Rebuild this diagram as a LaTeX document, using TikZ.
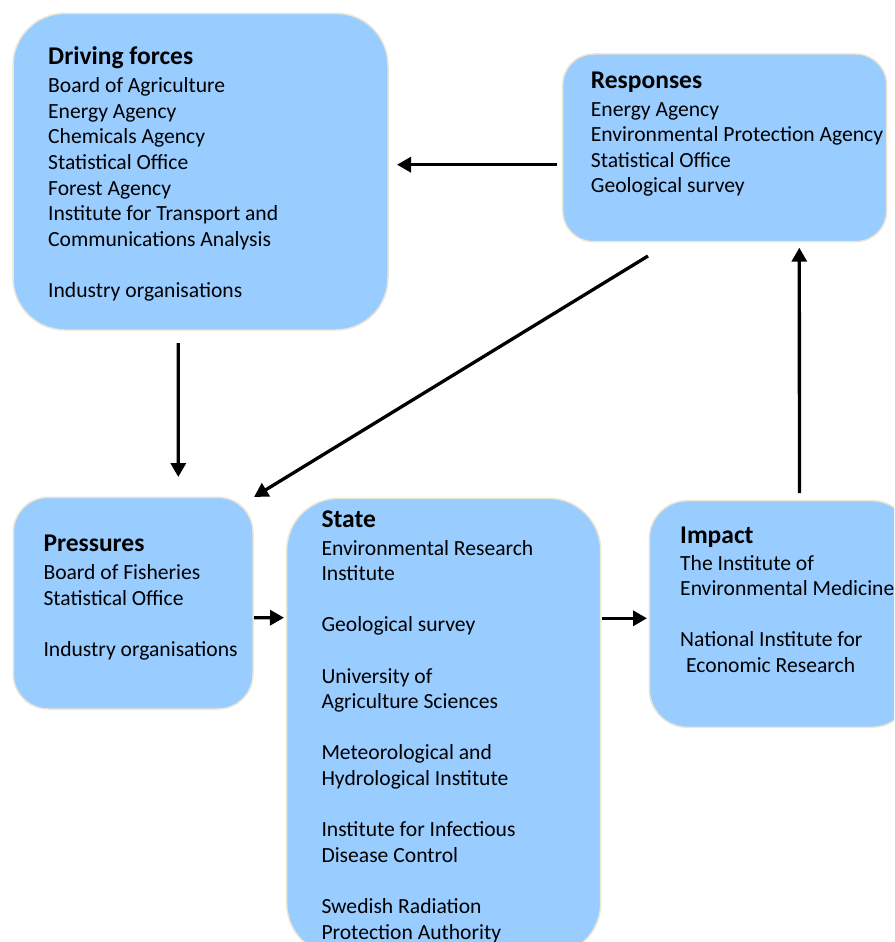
\documentclass[tikz,border=0pt]{standalone}
\usepackage{fontspec}
\setmainfont{Carlito}
\usetikzlibrary{arrows.meta,calc}
\definecolor{boxfill}{RGB}{153,204,255}
\definecolor{boxline}{RGB}{236,230,214}
\newcommand\boxhead[1]{{\fontsize{25.5}{25.6}\selectfont\bfseries #1}}
\begin{document}
\begin{tikzpicture}[x=1pt,y=-1pt,
  box/.style={draw=boxline,line width=1.5pt,fill=boxfill,anchor=north west,inner sep=0pt,outer sep=0pt},
  boxtext/.style={anchor=base west,inner sep=0pt,font=\fontsize{21.6}{25.6}\selectfont},
  arr/.style={line width=3.3pt,-{Triangle[length=14pt,width=15pt]}}]
\useasboundingbox (0,0) rectangle (894,942);
\clip (0,0) rectangle (894,942);
% boxes
\node[box,minimum width=375pt,minimum height=316.7pt,rounded corners=52pt] (df) at (13,13.3) {};
\node[box,minimum width=324pt,minimum height=187.7pt,rounded corners=31pt] (resp) at (562.7,54) {};
\node[box,minimum width=239.7pt,minimum height=211.7pt,rounded corners=35pt] (pres) at (13.3,497.3) {};
\node[box,minimum width=314pt,minimum height=457pt,rounded corners=52pt] (state) at (286.7,498.3) {};
\node[box,minimum width=261pt,minimum height=226.6pt,rounded corners=38pt] (imp) at (649.3,500.7) {};
% texts
\node[boxtext] (dft) at (48,65) {\begin{tabular}[t]{@{}l@{}}
\boxhead{Driving forces}\\[2.1pt]
Board of Agriculture\\
Energy Agency\\
Chemicals Agency\\
Statistical Office\\
Forest Agency\\
Institute for Transport and\\
Communications Analysis\\
\\
Industry organisations
\end{tabular}};
\node[boxtext] (respt) at (590.7,88.3) {\begin{tabular}[t]{@{}l@{}}
\boxhead{Responses}\\[2.1pt]
Energy Agency\\
Environmental Protection Agency\\
Statistical Office\\
Geological survey
\end{tabular}};
\node[boxtext] (prest) at (43.3,551.7) {\begin{tabular}[t]{@{}l@{}}
\boxhead{Pressures}\\[2.1pt]
Board of Fisheries\\
Statistical Office\\
\\
Industry organisations
\end{tabular}};
\node[boxtext] (statet) at (321.3,527.3) {\begin{tabular}[t]{@{}l@{}}
\boxhead{State}\\[2.1pt]
Environmental Research\\
Institute\\
\\
Geological survey\\
\\
University of\\
Agriculture Sciences\\
\\
Meteorological and\\
Hydrological Institute\\
\\
Institute for Infectious\\
Disease Control\\
\\
Swedish Radiation\\
Protection Authority
\end{tabular}};
\node[boxtext] (impt) at (680,543.3) {\begin{tabular}[t]{@{}l@{}}
\boxhead{Impact}\\[1.1pt]
The Institute of\\
Environmental Medicine\\
\\
National Institute for\\
\hspace{6pt}Economic Research
\end{tabular}};
% connectors
\draw[arr] ($(resp.west)+(-5.7,16.85)$) -- ($(df.east)+(9,-6.95)$);
\draw[arr] ($(df.south)+(-22.2,13)$) -- ($(pres.north)+(45.15,-20.3)$);
\draw[arr] ($(resp.south)+(-76.7,14.3)$) -- ($(pres.north east)+(1,-0.3)$);
\draw[arr] ($(pres.east)+(1,14.5)$) -- ($(state.west)+(-2.7,-109.1)$);
\draw[arr] ($(state.east)+(1.5,-108.5)$) -- ($(imp.west)+(-2.3,4.3)$);
\draw[arr] ($(imp.north)+(19.65,-7.7)$) -- ($(resp.south)+(74.6,6)$);
\end{tikzpicture}
\end{document}
